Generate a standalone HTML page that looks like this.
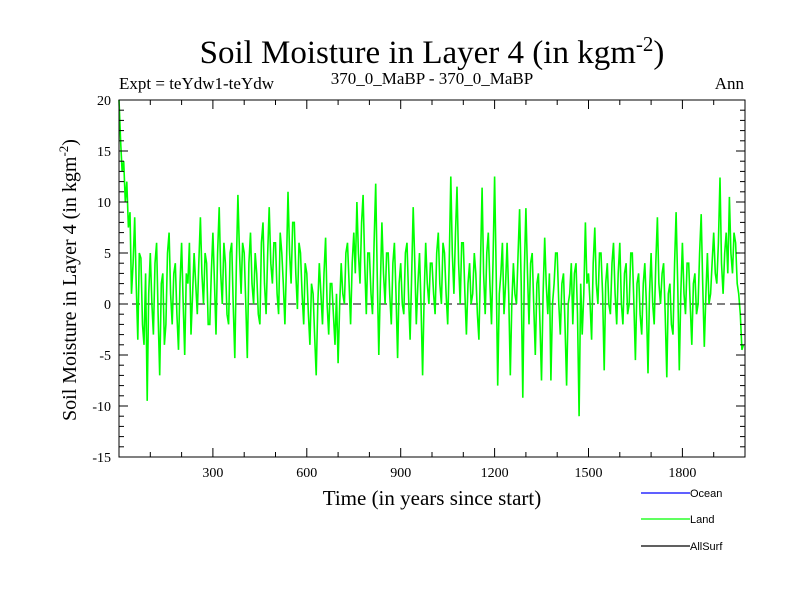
<!DOCTYPE html>
<html><head><meta charset="utf-8"><style>
body{margin:0;background:#fff;}
.serif{font-family:"Liberation Serif",serif;}
.sans{font-family:"Liberation Sans",sans-serif;}
</style></head><body>
<svg id="chart" width="800" height="600" xmlns="http://www.w3.org/2000/svg">
<rect width="800" height="600" fill="#fff"/>
<text class="serif" x="432" y="63" font-size="33" text-anchor="middle">Soil Moisture in Layer 4 (in kgm<tspan dy="-12" font-size="21">-2</tspan><tspan dy="12">)</tspan></text>
<text class="serif" x="119" y="89" font-size="17">Expt = teYdw1-teYdw</text>
<text class="serif" x="432" y="84" font-size="17" text-anchor="middle">370_0_MaBP - 370_0_MaBP</text>
<text class="serif" x="744" y="89" font-size="17" text-anchor="end">Ann</text>
<text class="serif" transform="translate(76,280) rotate(-90)" font-size="20" text-anchor="middle">Soil Moisture in Layer 4 (in kgm<tspan dy="-8" font-size="13">-2</tspan><tspan dy="8">)</tspan></text>
<text class="serif" x="432" y="505" font-size="21" text-anchor="middle">Time (in years since start)</text>
<g id="plot"></g>
<g id="axes"></g>
<g>
<line x1="641" y1="493" x2="690" y2="493" stroke="#0000ff" stroke-width="1.3"/>
<text class="sans" x="690" y="497" font-size="11">Ocean</text>
<line x1="641" y1="519" x2="690" y2="519" stroke="#00ff00" stroke-width="1.3"/>
<text class="sans" x="690" y="523" font-size="11">Land</text>
<line x1="641" y1="546" x2="690" y2="546" stroke="#000" stroke-width="1.3"/>
<text class="sans" x="690" y="550" font-size="11">AllSurf</text>
</g>
</svg>
<script>
const landValues = [
20,16,13,14,10,12,7.5,9,1,4,8.5,2,-3.5,5,4.5,-2,-4,3,-9.5,1,
5,0,-3,4,6,-1,-7,2,3,-4,-2,5,7,1,-2,3,4,-1,-4.5,2,
6,0,-5,3,2,6,-3,1,5,2,-1,4,8.5,3,0,5,4,-2,-2,3,
7,2,-3,5,9.5,3,0,6,4,-1,-2,5,6,0,-5.3,4,10.7,5,1,6,
5,0,-5.3,4,7,2,0,5,3,-1,-2,6,8,2,-1,5,9.5,4,2,6,
6,1,-1,7,5,2,-2,4,11,5,2,8,8,3,-0.5,6,5,1,-2,4,
3,-1,-4,2,1,-3,-7,0,4,1,-2,3,6.5,0,-3,2,2,-1,-4,1,
-5.8,0,4,1,0,5,6,2,-2,4,7,3,10,5,2,8,10.7,4,-1,5,
5,1,-1,6,11.8,3,-5,2,8,3,0,5,5,1,-2,4,6,1,-5.3,2,
4,0,-1,5,6,1,-3.5,3,9.5,4,-2,2,5,0,-7,1,6,2,0,4,
4,1,-1,5,7,2,0,6,5,1,-2,4,12.5,5,1,7,11.5,4,0,6,
6,1,-3,2,4,0,1,5,3,-1,-3.5,4,11.4,3,-1,5,7,2,-2,4,
12.5,3,-8,1,3,6,-1,2,6,1,-7,0,4,1,0,5,9.3,2,-9.2,3,
9.4,3,-2,4,5,0,-5,2,3,-2,-7.5,1,6.5,2,-1,3,-7.5,0,2,5,
5,0,-3,2,3,-2,-8,0,1,4,-2,3,4,-1,-11,2,-3,1,8,2,
3,0,-3.5,4,7.5,2,0,5,5,1,-6.5,2,4,0,-1,4,6,1,-2,3,
6,0,-2,3,4,-1,0,5,5,0,-5.5,2,3,-1,-3,2,4,0,-6.8,1,
5,0,-2,4,8.5,2,0,3,4,-1,-7.2,1,2,-2,-3,4,9,2,-6.5,1,
6,1,-1,4,4,0,-4,2,3,-1,0,5,8.8,2,-4.2,1,5,0,1,4,
7,3,2,6,12.4,4,1,5,7,3,10.5,5,3,7,6,2,1,-1,-4.5,-4];
const yearStep = 5;
const xTickLabels = [300,600,900,1200,1500,1800];
const yTickLabels = [20,15,10,5,0,-5,-10,-15];

const NS = "http://www.w3.org/2000/svg";
const L=119,R=745,T=100,B=457, X0=0,X1=2000,Y0=-15,Y1=20;
const xs = v => L + (v-X0)/(X1-X0)*(R-L);
const ys = v => B - (v-Y0)/(Y1-Y0)*(B-T);
const plot = document.getElementById('plot');
const axes = document.getElementById('axes');
function mk(tag, attrs, parent){const e=document.createElementNS(NS,tag);for(const k in attrs)e.setAttribute(k,attrs[k]);parent.appendChild(e);return e;}

const zero = mk('line',{x1:L,x2:R,y1:ys(0),y2:ys(0),stroke:'#000','stroke-width':1,'stroke-dasharray':'8,5'},plot);



const pts = landValues.map((v,i)=>xs(i*yearStep).toFixed(1)+','+ys(v).toFixed(1)).join(' ');
const land = mk('polyline',{points:pts,fill:'none',stroke:'#00ff00','stroke-width':1.6,'stroke-linejoin':'miter'},plot);



const frame = mk('rect',{x:L,y:T,width:R-L,height:B-T,fill:'none',stroke:'#000','stroke-width':1},axes);



for(let yr=100; yr<X1; yr+=100){
  const major = yr%300===0, len = major?9:5, x=xs(yr);
  const t1 = mk('line',{x1:x,x2:x,y1:B,y2:B-len,stroke:'#000'},axes);
  
  
  const t2 = mk('line',{x1:x,x2:x,y1:T,y2:T+len,stroke:'#000'},axes);
  
  
}
xTickLabels.forEach(v=>{
  const t = mk('text',{x:xs(v),y:B+20,'font-size':14,'text-anchor':'middle','class':'serif'},axes);
  t.textContent=v;
  
  
});
for(let v=Y0+1; v<Y1; v++){
  const major = v%5===0, len = major?9:5, y=ys(v);
  const t1 = mk('line',{x1:L,x2:L+len,y1:y,y2:y,stroke:'#000'},axes);
  
  
  const t2 = mk('line',{x1:R,x2:R-len,y1:y,y2:y,stroke:'#000'},axes);
  
  
}
yTickLabels.forEach(v=>{
  const t = mk('text',{x:L-8,y:ys(v)+5,'font-size':14,'text-anchor':'end','class':'serif'},axes);
  t.textContent=v;
  
  
});
</script>
</body></html>
